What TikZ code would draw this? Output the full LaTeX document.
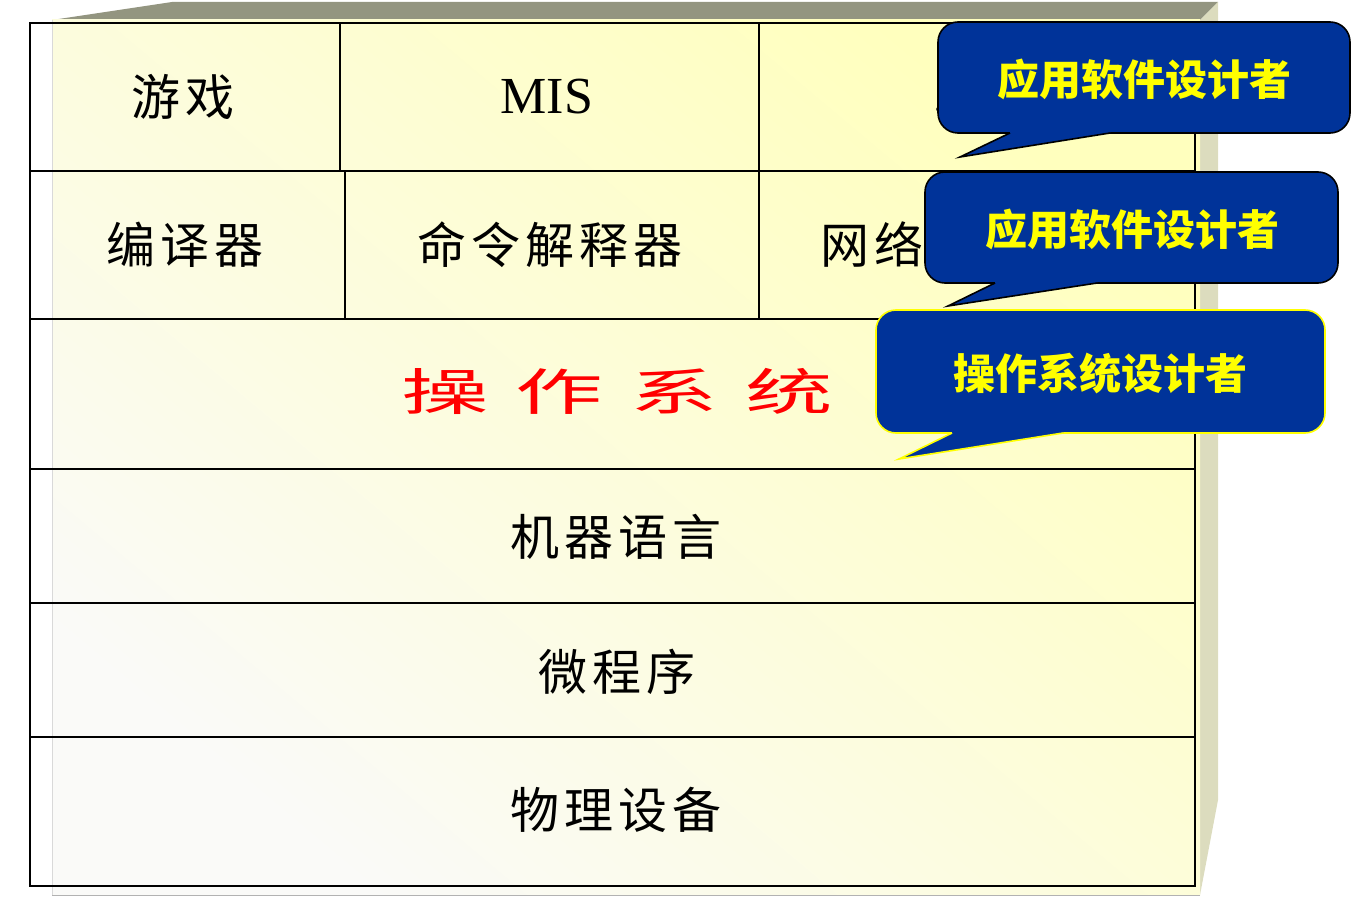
\documentclass[tikz,border=0pt]{standalone}
\usepackage{fontspec}
\newfontfamily\cjk{Noto Sans CJK SC}
\newfontfamily\cjkls[LetterSpace=10]{Noto Sans CJK SC}
\newfontfamily\cjkred[LetterSpace=31]{Noto Sans CJK SC}
\newfontfamily\timesf{Liberation Serif}
\definecolor{calloutblue}{HTML}{003399}
\definecolor{calloutyellow}{HTML}{FFFF00}
\definecolor{topband}{HTML}{939580}
\definecolor{sideface}{HTML}{DCDCBE}
\definecolor{faceyellow}{HTML}{FFFFBE}
\definecolor{facemid}{HTML}{FDFDE0}
\definecolor{facewhite}{HTML}{FAFAF8}
\definecolor{osred}{HTML}{FF0000}
\begin{document}
\begin{tikzpicture}[x=1pt,y=-1pt,
  gridline/.style={line width=1.3pt, black},
  outer/.style={line width=1.8pt, black},
  celltext/.style={font=\cjkls\fontsize{49}{54}\selectfont, inner sep=0pt},
  calloutbox/.style={fill=calloutblue, draw=black, line width=1.6pt, rounded corners=20pt},
  callouttail/.style={draw=black, line width=1.6pt, line join=miter},
  callouttext/.style={font=\cjk\bfseries\fontsize{42}{46}\selectfont, text=calloutyellow, inner sep=0pt}]
\useasboundingbox (0,0) rectangle (1351,909);
% 3D box
\fill[topband] (52,20) -- (172,2) -- (1218,2) -- (1200,20) -- cycle;
\fill[sideface] (1200,20) -- (1218,2) -- (1218,800) -- (1200,895) -- cycle;
\shade[top color=faceyellow, middle color=facemid, bottom color=facewhite, shading angle=-40] (52,20) rectangle (1200,895);
\draw[black!15, line width=1pt] (52,20) -- (52,895);
\draw[black!30, line width=1pt] (52,895) -- (1200,895);
% grid
\draw[gridline] (30,171) -- (1195,171);
\draw[gridline] (30,319) -- (1195,319);
\draw[gridline] (30,469) -- (1195,469);
\draw[gridline] (30,603) -- (1195,603);
\draw[outer] (30,737) -- (1195,737);
\draw[gridline] (340,23) -- (340,171);
\draw[gridline] (345,171) -- (345,319);
\draw[gridline] (759,23) -- (759,319);
\draw[outer] (30,23) rectangle (1195,886);
% texts
\node[celltext] (game) at (183,97) {游戏};
\node[inner sep=0pt, font=\timesf\fontsize{52}{56}\selectfont] (mis) at (547,97) {MIS};
\node[anchor=base west, inner sep=0pt, font=\timesf\fontsize{40}{44}\selectfont] (dots) at (932,112) {……};
\node[celltext] (compiler) at (185,245) {编译器};
\node[celltext] (shell) at (550,245) {命令解释器};
\node[celltext, anchor=west] (net) at (820,245) {网络};
\node[inner sep=0pt, text=osred, font=\cjkred\fontsize{50}{54}\selectfont, xscale=1.75] (os) at (617,391) {操作系统};
\node[celltext] (ml) at (616,537) {机器语言};
\node[celltext] (micro) at (617,672) {微程序};
\node[celltext] (dev) at (616,810) {物理设备};
% callout 1
\draw[calloutbox] (938,22) rectangle (1350,133);
\fill[calloutblue] (1010,133) -- (960,157) -- (1110,133) -- (1110,126) -- (1010,126) -- cycle;
\draw[callouttail] (1010,133) -- (960,157) -- (1110,133);
\node[callouttext] (c1) at (1144,79) {应用软件设计者};
% callout 2
\draw[calloutbox] (925,172) rectangle (1338,283);
\fill[calloutblue] (995,283) -- (948,306) -- (1097,283) -- (1097,276) -- (995,276) -- cycle;
\draw[callouttail] (995,283) -- (948,306) -- (1097,283);
\node[callouttext] (c2) at (1132,229) {应用软件设计者};
% callout 3
\draw[calloutbox, draw=calloutyellow] (876,310) rectangle (1325,433);
\fill[calloutblue] (952,433) -- (899,459) -- (1063,433) -- (1063,426) -- (952,426) -- cycle;
\draw[callouttail, draw=calloutyellow] (952,433) -- (899,459) -- (1063,433);
\node[callouttext] (c3) at (1100,373) {操作系统设计者};
\end{tikzpicture}
\end{document}
